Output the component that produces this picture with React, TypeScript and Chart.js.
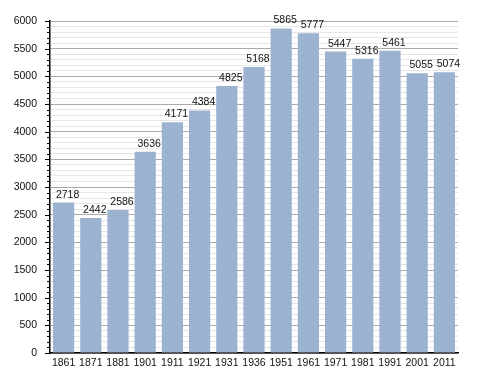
import React, { useEffect, useRef } from "react";
import { Chart, registerables } from "chart.js";

Chart.register(...registerables);

const years = ["1861", "1871", "1881", "1901", "1911", "1921", "1931", "1936", "1951", "1961", "1971", "1981", "1991", "2001", "2011"];
const population = [2718, 2442, 2586, 3636, 4171, 4384, 4825, 5168, 5865, 5777, 5447, 5316, 5461, 5055, 5074];
const yMax = 6000;
const yStep = 100;
const yLabelStep = 500;

const FONT = "'Liberation Sans', Arial, sans-serif";

const valueLabels = {
  id: "valueLabels",
  afterDatasetsDraw(chart: any) {
    const ctx = chart.ctx;
    const meta = chart.getDatasetMeta(0);
    ctx.save();
    ctx.font = `10.5px ${FONT}`;
    ctx.fillStyle = "#111";
    ctx.textAlign = "center";
    ctx.textBaseline = "alphabetic";
    meta.data.forEach((bar: any, i: number) => {
      ctx.fillText(String(population[i]), bar.x + 4, bar.y - 5);
    });
    ctx.restore();
  },
};

const axisTicks = {
  id: "axisTicks",
  afterDraw(chart: any) {
    const ctx = chart.ctx;
    const y = chart.scales.y;
    const left = chart.chartArea.left;
    ctx.save();
    ctx.strokeStyle = "#000";
    ctx.lineWidth = 1;
    y.ticks.forEach((t: any) => {
      const py = Math.round(y.getPixelForValue(t.value)) + 0.5;
      const len = t.value % yLabelStep === 0 ? 5 : 3;
      ctx.beginPath();
      ctx.moveTo(left - len, py);
      ctx.lineTo(left, py);
      ctx.stroke();
    });
    ctx.restore();
  },
};

export default function App() {
  const ref = useRef<HTMLCanvasElement | null>(null);
  useEffect(() => {
    if (!ref.current) return;
    const chart = new Chart(ref.current, {
      type: "bar",
      data: {
        labels: years,
        datasets: [
          {
            data: population,
            backgroundColor: "rgb(155,179,208)",
            borderWidth: 0,
            barPercentage: 0.78,
            categoryPercentage: 1,
          },
        ],
      },
      options: {
        animation: false,
        responsive: false,
        maintainAspectRatio: false,
        layout: { padding: { top: 21, right: 30, bottom: 0, left: 0 } },
        plugins: {
          legend: { display: false },
          tooltip: { enabled: false },
        },
        scales: {
          x: {
            grid: { display: false, drawTicks: false },
            border: { display: true, color: "#000", width: 1.5 },
            ticks: {
              color: "#111",
              font: { family: FONT, size: 10.5 },
              padding: 4,
              maxRotation: 0,
              autoSkip: false,
            },
            afterFit(scale: any) {
              scale.height = 20;
            },
          },
          y: {
            min: 0,
            max: yMax,
            border: { display: true, color: "#000", width: 1.5 },
            grid: {
              color: (c: any) => (c.tick && c.tick.value % yLabelStep === 0 ? "#aaaaaa" : "#e6e6e6"),
              drawTicks: false,
            },
            ticks: {
              stepSize: yStep,
              autoSkip: false,
              color: "#111",
              font: { family: FONT, size: 10.5 },
              padding: 13,
              callback: (v: any) => (Number(v) % yLabelStep === 0 ? String(v) : ""),
            },
            afterFit(scale: any) {
              scale.width = 50;
            },
          },
        },
      },
      plugins: [valueLabels, axisTicks],
    });
    return () => chart.destroy();
  }, []);
  return (
    <div style={{ position: "fixed", left: 0, top: 0, width: 488, height: 373, background: "#fff" }}>
      <canvas ref={ref} width={488} height={373} style={{ width: 488, height: 373 }} />
    </div>
  );
}
